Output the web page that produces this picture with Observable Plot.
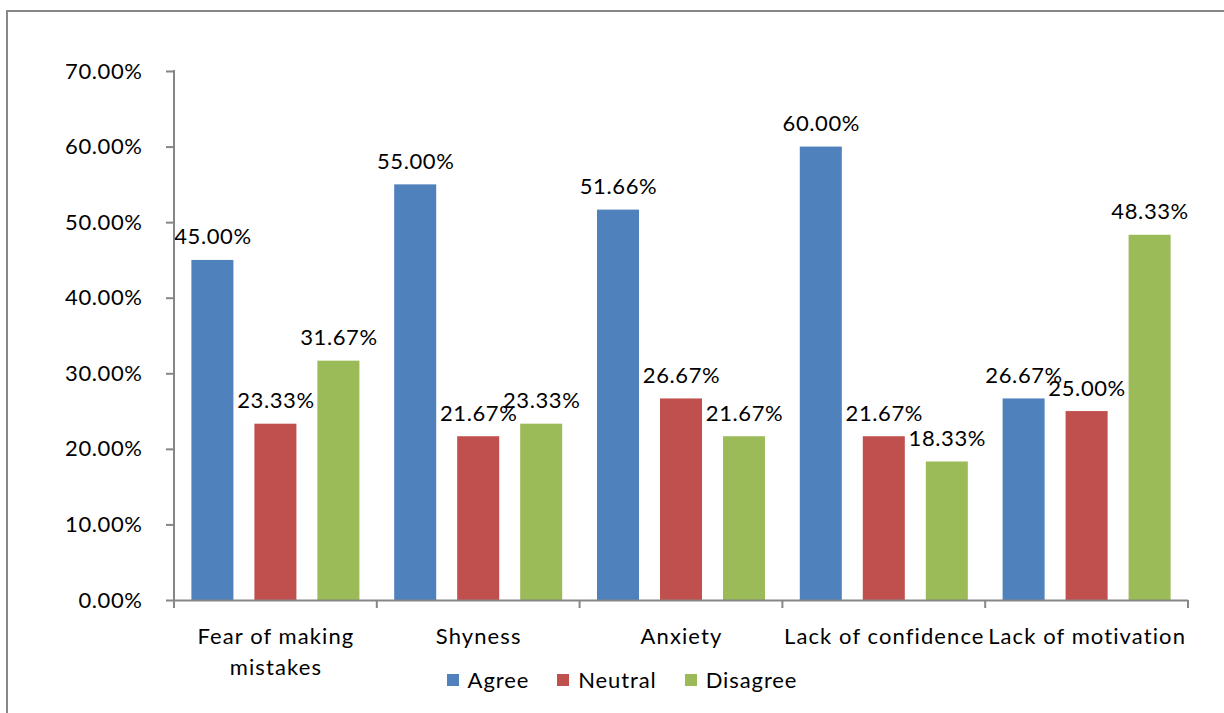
<!DOCTYPE html>
<html><head><meta charset="utf-8">
<script src="https://cdn.jsdelivr.net/npm/d3@7"></script>
<script src="https://cdn.jsdelivr.net/npm/@observablehq/plot@0.6"></script>
<style>
html,body{margin:0;padding:0;background:#fff;overflow:hidden;width:1224px;height:713px}
#wrap{position:relative;width:1224px;height:713px;font-family:Lato,"Open Sans",sans-serif;color:#000}
#frame{position:absolute;left:6px;top:10px;width:1400px;height:900px;border-left:2px solid #878787;border-top:2px solid #878787}
#chart{position:absolute;left:0;top:0}
#chart svg text{letter-spacing:0.6px}
#chart svg g[aria-label^="fx-axis"] text{letter-spacing:1.1px}
#legend{position:absolute;top:666px;left:0;width:1244px;display:flex;justify-content:center;align-items:center;font-size:22px;letter-spacing:0.9px;gap:28px}
#legend .item{display:flex;align-items:center;gap:9px}
#legend .sw{width:12px;height:12px;display:inline-block}
</style></head><body>
<div id="wrap"><div id="frame"></div><div id="chart"></div><div id="legend"></div></div>
<script>
const categories = ["Fear of making\nmistakes", "Shyness", "Anxiety", "Lack of confidence", "Lack of motivation"];
const series = ["Agree", "Neutral", "Disagree"];
const agree = [0.45, 0.55, 0.5166, 0.60, 0.2667];
const neutral = [0.2333, 0.2167, 0.2667, 0.2167, 0.25];
const disagree = [0.3167, 0.2333, 0.2167, 0.1833, 0.4833];
const colors = ["#4F81BD", "#C0504D", "#9BBB59"];
const yTicks = [0, 0.1, 0.2, 0.3, 0.4, 0.5, 0.6, 0.7];

const values = [agree, neutral, disagree];
const data = [];
categories.forEach((c, i) => series.forEach((s, j) => data.push({category: c, series: s, value: values[j][i]})));
const pct = d3.format(".2%");
const axisColor = "#868686";

const plot = Plot.plot({
  width: 1224, height: 713,
  marginLeft: 174, marginRight: 36, marginTop: 71, marginBottom: 113,
  style: {fontFamily: "Lato, 'Open Sans', sans-serif", fontSize: "22px", color: "#000", background: "transparent", overflow: "visible"},
  fx: {domain: categories, padding: 0, round: false, label: null},
  x: {domain: series, paddingInner: 0.333, paddingOuter: 0.276, round: false, axis: null},
  y: {domain: [0, 0.7], label: null},
  color: {domain: series, range: colors},
  marks: [
    Plot.barY(data, {fx: "category", x: "series", y: "value", fill: "series"}),
    Plot.text(data, {fx: "category", x: "series", y: "value", text: d => pct(d.value), lineAnchor: "bottom", dy: -16, fontSize: 22, fill: "#000"}),
    Plot.ruleY([0], {stroke: axisColor, strokeWidth: 2}),
    Plot.axisY({ticks: yTicks, tickFormat: pct, tickSize: 8, tickPadding: 24, stroke: axisColor, strokeWidth: 2, fontSize: 22, fill: "#000", label: null}),
    Plot.axisFx({anchor: "bottom", tickSize: 0, tickPadding: 22, lineHeight: 1.4, fontSize: 22, fill: "#000", label: null})
  ]
});
document.getElementById("chart").appendChild(plot);

// axis line and category boundary ticks derived from the plot's scales
const fx = plot.scale("fx"), y = plot.scale("y");
const svg = d3.select(plot);
const g = svg.append("g").attr("stroke", axisColor).attr("stroke-width", 2);
const y0 = y.apply(0), yTop = y.apply(0.7);
const xLeft = fx.apply(categories[0]);
g.append("line").attr("x1", xLeft).attr("x2", xLeft).attr("y1", yTop - 1).attr("y2", y0);
const edges = categories.map(c => fx.apply(c)).concat([fx.apply(categories[categories.length - 1]) + fx.bandwidth]);
edges.forEach(xe => g.append("line").attr("x1", xe).attr("x2", xe).attr("y1", y0).attr("y2", y0 + 8));

// legend
const leg = d3.select("#legend");
series.forEach((s, i) => {
  const it = leg.append("div").attr("class", "item");
  it.append("span").attr("class", "sw").style("background", colors[i]);
  it.append("span").text(s);
});
</script>
</body></html>
